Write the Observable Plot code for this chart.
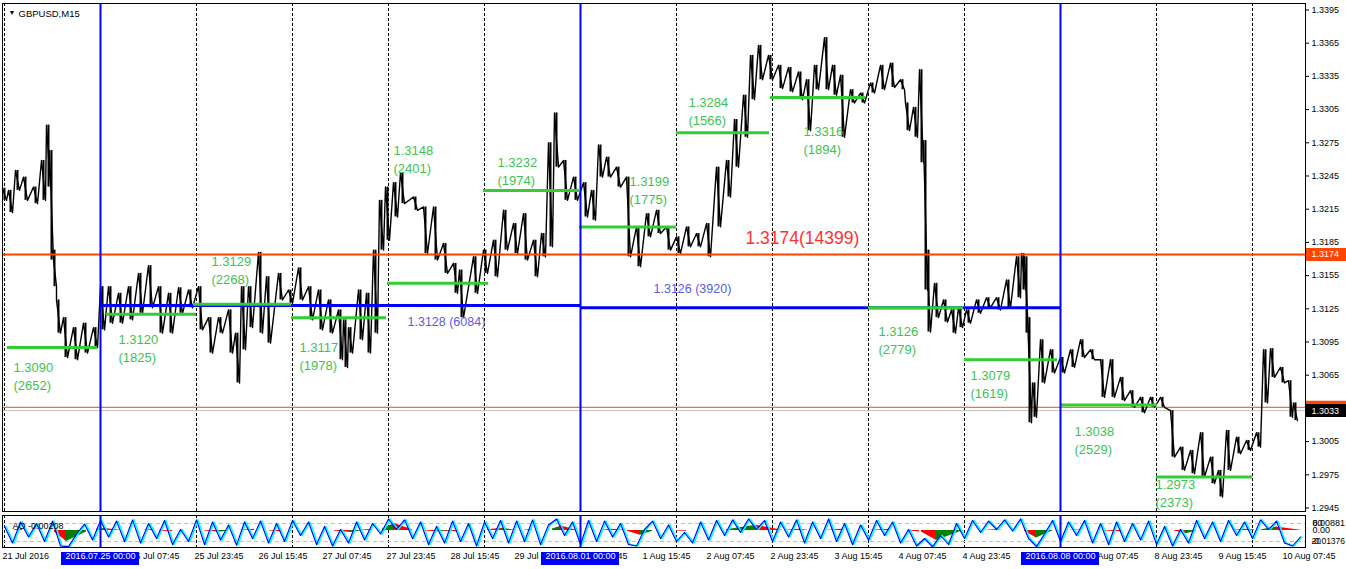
<!DOCTYPE html>
<html><head><meta charset="utf-8">
<script src="https://cdn.jsdelivr.net/npm/d3@7"></script>
<script src="https://cdn.jsdelivr.net/npm/@observablehq/plot@0.6"></script>
<style>body{margin:0;background:#fff} svg{display:block}</style>
</head><body><div id="chart"></div>
<script>
// ---------- DATA ----------
// M15 bars of GBPUSD, sampled: [bar index, high, low]
const priceHL = [
[0,1.3234,1.3223],[6,1.3232,1.3212],[13,1.3250,1.3232],[21,1.3244,1.3223],[31,1.3235,1.3220],[39,1.3259,1.3223],
[44,1.3291,1.3235],[47,1.3268,1.3169],[50,1.3178,1.3145],[54,1.3133,1.3103],[61,1.3117,1.3081],[71,1.3108,1.3079],
[81,1.3112,1.3085],[91,1.3108,1.3090],[98,1.3145,1.3106],[106,1.3145,1.3112],[116,1.3139,1.3112],[126,1.3145,1.3115],
[136,1.3157,1.3121],[146,1.3164,1.3126],[156,1.3145,1.3103],[166,1.3139,1.3103],[176,1.3144,1.3121],[186,1.3142,1.3126],
[196,1.3145,1.3106],[206,1.3117,1.3085],[216,1.3117,1.3103],[226,1.3124,1.3085],[233,1.3103,1.3058],[239,1.3145,1.3088],
[246,1.3145,1.3108],[256,1.3176,1.3103],[264,1.3154,1.3094],[276,1.3157,1.3133],[286,1.3142,1.3130],[296,1.3162,1.3133],
[306,1.3145,1.3115],[316,1.3142,1.3106],[326,1.3133,1.3103],[336,1.3124,1.3079],[341,1.3115,1.3072],[346,1.3108,1.3085],
[356,1.3142,1.3097],[364,1.3139,1.3085],[371,1.3178,1.3103],[377,1.3223,1.3178],[383,1.3235,1.3187],[391,1.3239,1.3208],
[398,1.3248,1.3220],[411,1.3226,1.3214],[421,1.3217,1.3175],[431,1.3217,1.3169],[441,1.3184,1.3157],[451,1.3166,1.3139],
[457,1.3160,1.3117],[471,1.3172,1.3139],[481,1.3178,1.3157],[491,1.3187,1.3154],[501,1.3214,1.3178],[511,1.3202,1.3175],
[521,1.3211,1.3169],[531,1.3187,1.3154],[539,1.3193,1.3172],[546,1.3275,1.3181],[552,1.3302,1.3253],[561,1.3259,1.3223],
[571,1.3244,1.3223],[581,1.3239,1.3208],[589,1.3232,1.3205],[596,1.3273,1.3244],[604,1.3262,1.3244],[614,1.3253,1.3235],
[624,1.3244,1.3172],[634,1.3199,1.3163],[644,1.3211,1.3190],[654,1.3214,1.3193],[664,1.3199,1.3178],[674,1.3190,1.3175],
[684,1.3199,1.3181],[694,1.3193,1.3181],[704,1.3202,1.3172],[714,1.3253,1.3199],[724,1.3259,1.3226],[732,1.3296,1.3253],
[741,1.3318,1.3280],[748,1.3354,1.3314],[756,1.3363,1.3332],[766,1.3354,1.3332],[776,1.3345,1.3324],[786,1.3343,1.3321],
[796,1.3339,1.3314],[804,1.3332,1.3286],[812,1.3345,1.3323],[822,1.3370,1.3323],[830,1.3345,1.3318],[838,1.3336,1.3280],
[848,1.3323,1.3311],[858,1.3320,1.3311],[868,1.3329,1.3320],[878,1.3345,1.3323],[888,1.3347,1.3325],[898,1.3332,1.3323],
[903,1.3311,1.3286],[911,1.3307,1.3280],[917,1.3341,1.3257],[921,1.3277,1.3142],[924,1.3178,1.3104],[932,1.3148,1.3117],
[941,1.3133,1.3113],[949,1.3124,1.3103],[956,1.3126,1.3108],[964,1.3124,1.3112],[974,1.3133,1.3121],[984,1.3135,1.3126],
[994,1.3135,1.3124],[1004,1.3151,1.3126],[1014,1.3172,1.3135],[1019,1.3175,1.3142],[1022,1.3172,1.3103],[1025,1.3117,1.3022],
[1030,1.3058,1.3027],[1038,1.3097,1.3058],[1048,1.3088,1.3067],[1058,1.3081,1.3067],[1068,1.3088,1.3072],[1078,1.3097,1.3081],
[1088,1.3088,1.3079],[1098,1.3079,1.3045],[1108,1.3079,1.3045],[1118,1.3063,1.3042],[1128,1.3051,1.3036],[1138,1.3045,1.3031],
[1148,1.3045,1.3036],[1158,1.3045,1.3036],[1168,1.3033,1.2991],[1178,1.3000,1.2979],[1188,1.2997,1.2976],[1198,1.3013,1.2973],
[1208,1.2991,1.2967],[1216,1.2979,1.2955],[1224,1.3015,1.2979],[1234,1.3009,1.2994],[1244,1.3006,1.2997],[1254,1.3013,1.3000],
[1261,1.3088,1.3040],[1268,1.3089,1.3063],[1278,1.3072,1.3058],[1286,1.3060,1.3027],[1291,1.3040,1.3024]
];

// daily POC levels (green) and volumes
const dayLevels = [1.3090,1.3120,1.3129,1.3117,1.3148,1.3232,1.3199,1.3284,1.3316,1.3126,1.3079,1.3038,1.2973];
const dayCounts = [2652,1825,2268,1978,2401,1974,1775,1566,1894,2779,1619,2529,2373];
const dayStart  = [3,102,189,287,383,479,575,672,766,864,960,1056,1152];
const dayEnd    = [93,192,287,382,484,575,672,765,861,959,1053,1153,1248];
const dayLabelBar   = [9,114,207,295,389,493,625,684,799,874,966,1070,1151];
const dayLabelPrice = [1.3072,1.3097,1.3167,1.3090,1.3268,1.3257,1.3240,1.3311,1.3285,1.3104,1.3064,1.3014,1.2966];

// weekly POC levels (blue)
const weekStart = [96,576,1056];
const weekLevels = [1.3128,1.3126];
const weekCounts = [6084,3920];
const weekLabelBar = [403,649];
const weekLabelPrice = [1.3113,1.3143];
const weekStartLabels = ["2016.07.25 00:00","2016.08.01 00:00","2016.08.08 00:00"];

// overall POC
const totalLevel = 1.3174, totalCount = 14399;
const totalLabelBar = 741, totalLabelPrice = 1.3189;
const askLevel = 1.3036, bidLevel = 1.3033;

const yTicks = [1.3395,1.3365,1.3335,1.3305,1.3275,1.3245,1.3215,1.3185,1.3155,1.3125,1.3095,1.3065,1.3035,1.3005,1.2975,1.2945];
const gridBars = [0,96,192,288,384,480,576,672,768,864,960,1056,1152,1248];
const timeLabels = ["21 Jul 2016","22 Jul 15:45","25 Jul 07:45","25 Jul 23:45","26 Jul 15:45","27 Jul 07:45","27 Jul 23:45",
  "28 Jul 15:45","29 Jul 07:45","31 Jul 23:45","1 Aug 15:45","2 Aug 07:45","2 Aug 23:45","3 Aug 15:45","4 Aug 07:45",
  "4 Aug 23:45","5 Aug 15:45","8 Aug 07:45","8 Aug 23:45","9 Aug 15:45","10 Aug 07:45"];

// oscillator (0..100), sampled every 8 bars
const oscV = [70,15,85,35,80,20,88,5,3,45,78,25,90,35,88,20,92,15,80,30,90,10,60,20,92,10,85,25,75,8,85,30,88,15,80,20,90,40,85,10,
  70,5,60,15,85,25,80,45,95,60,92,30,85,10,70,15,88,20,80,5,85,30,90,15,88,20,92,10,75,95,40,85,10,90,20,88,35,80,10,5,
  60,88,30,75,20,50,15,85,25,90,40,92,50,95,60,90,20,85,35,92,15,85,30,95,20,80,10,75,25,90,40,85,15,60,5,30,2,40,10,80,
  30,90,50,88,60,92,55,95,30,3,45,90,20,85,40,90,15,80,10,85,20,80,25,88,10,70,5,60,15,90,30,85,20,90,40,85,30,92,60,88,
  15,5,35];
// histogram segments: start bar, end bar, start value, end value, colour
const histStart = [10,50,62,92,100,140,155,200,216,236,265,330,346,356,378,390,420,432,440,483,498,520,548,556,597,606,623,636,672,722,740,752,782,795,823,866,903,917,932,982,990,1020,1032,1065,1100,1170,1182,1230,1240,1257,1272];
const histEnd   = [18,62,82,100,116,150,168,216,224,250,278,346,356,368,390,408,432,445,454,498,510,528,558,572,608,620,636,648,682,740,752,778,795,803,838,886,915,932,957,990,998,1032,1048,1075,1117,1182,1192,1240,1250,1272,1296];
const histFrom  = [0.0010,-0.0020,-0.0137,0.0015,0.0025,0.0005,-0.0005,-0.0005,-0.0020,0.0005,-0.0005,-0.0005,-0.0025,0.0005,0.0020,0.0088,-0.0005,-0.0015,-0.0005,0.0010,0.0030,0.0005,0.0020,0.0060,0.0005,0.0015,-0.0010,-0.0060,-0.0005,0.0010,0.0045,0.0065,0.0005,0.0015,0.0005,0.0005,-0.0005,-0.0020,-0.0125,0.0005,0.0010,-0.0010,-0.0095,0.0003,-0.0005,-0.0005,-0.0040,0.0005,0.0015,0.0010,0.0045];
const histTo    = [0.0015,-0.0137,-0.0020,0.0025,0.0005,0.0015,-0.0015,-0.0020,-0.0010,0.0015,-0.0015,-0.0025,-0.0005,0.0015,0.0088,0.0010,-0.0015,-0.0005,-0.0015,0.0030,0.0005,0.0015,0.0060,0.0005,0.0015,0.0002,-0.0060,-0.0010,-0.0010,0.0045,0.0065,0.0005,0.0015,0.0005,0.0015,0.0015,-0.0015,-0.0125,-0.0010,0.0010,0.0005,-0.0095,-0.0005,0.0008,-0.0015,-0.0040,-0.0005,0.0015,0.0010,0.0045,0.0005];
const histColor = ["r","r","g","g","r","g","r","r","g","r","r","r","g","g","g","r","r","g","r","r","g","r","g","r","g","r","r","g","r","g","g","r","r","g","r","g","r","r","g","r","g","r","g","g","r","r","g","r","g","g","r"];
const histMax = 0.00881, histMin = -0.01376, aoValue = -0.00208;

// ---------- RENDER ----------
const FONT = "'Liberation Sans', Arial, sans-serif";
const X = {domain: [-2, 1301], axis: null};
const fmt = d => d.toFixed(4);

const zig = priceHL.flatMap(([b, h, l]) => [{b: b - 2, p: h}, {b: b + 2, p: l}]);
const days = dayLevels.map((v, i) => ({v, s: dayStart[i], e: dayEnd[i], lb: dayLabelBar[i], lp: dayLabelPrice[i], n: dayCounts[i]}));
const weeks = weekLevels.map((v, i) => ({v, s: weekStart[i], e: weekStart[i + 1], lb: weekLabelBar[i], lp: weekLabelPrice[i], n: weekCounts[i]}));
const GREEN = "#32CD32", GTEXT = "#3cc353", BLUE = "#0000FF", ORANGE = "#FF4500";

const main = Plot.plot({
  width: 1346, height: 513,
  marginLeft: 2, marginRight: 41, marginTop: 3, marginBottom: 2,
  style: {fontFamily: FONT, fontSize: "9px", background: "#fff", color: "#000"},
  x: X,
  y: {domain: [1.294184, 1.340087], axis: null},
  marks: [
    Plot.ruleX(gridBars, {stroke: "#000", strokeDasharray: "3,2", strokeWidth: 1}),
    Plot.ruleY([bidLevel], {stroke: "#c0c0c0", strokeWidth: 1}),
    Plot.ruleY([askLevel], {stroke: ORANGE, strokeWidth: 1}),
    Plot.ruleX(priceHL, {x: d => d[0], y1: d => d[2], y2: d => d[1], stroke: "#000", strokeWidth: 2}),
    Plot.line(zig, {x: "b", y: "p", stroke: "#000", strokeWidth: 1.4}),
    Plot.ruleY([totalLevel], {stroke: ORANGE, strokeWidth: 2}),
    Plot.ruleY(weeks, {y: "v", x1: "s", x2: "e", stroke: BLUE, strokeWidth: 3}),
    Plot.ruleY(days, {y: "v", x1: "s", x2: "e", stroke: GREEN, strokeWidth: 3}),
    Plot.ruleX(weekStart, {stroke: BLUE, strokeWidth: 2}),
    Plot.text(days, {x: "lb", y: "lp", text: d => fmt(d.v), fill: GTEXT, fontSize: 13, textAnchor: "start"}),
    Plot.text(days, {x: "lb", y: "lp", text: d => `(${d.n})`, fill: GTEXT, fontSize: 13, textAnchor: "start", dy: 18}),
    Plot.text(weeks, {x: "lb", y: "lp", text: d => `${fmt(d.v)} (${d.n})`, fill: "#5a5ae6", fontSize: 12.5, textAnchor: "start"}),
    Plot.text([totalLevel], {x: () => totalLabelBar, y: () => totalLabelPrice, text: d => `${fmt(d)}(${totalCount})`, fill: "#ff3030", fontSize: 17.5, textAnchor: "start"}),
    Plot.frame({stroke: "#000"}),
    Plot.text(["▼"], {frameAnchor: "top-left", dx: 6, dy: 7, fontSize: 7, fill: "#000"}),
    Plot.text(["GBPUSD,M15"], {frameAnchor: "top-left", dx: 16, dy: 7, textAnchor: "start", fontSize: 9.5, fill: "#000"}),
    Plot.axisY(yTicks, {anchor: "right", tickFormat: fmt, tickSize: 3, tickPadding: 3, label: null, fontSize: 9}),
    Plot.ruleY([totalLevel, askLevel], {x1: () => 1302, x2: () => 1342, stroke: ORANGE, strokeWidth: 13}),
    Plot.text([totalLevel, askLevel], {x: () => 1307, y: d => d, text: fmt, fill: "#fff", fontSize: 9, textAnchor: "start"}),
    Plot.ruleY([bidLevel], {x1: () => 1302, x2: () => 1342, stroke: "#000", strokeWidth: 13}),
    Plot.text([bidLevel], {x: () => 1307, y: d => d, text: fmt, fill: "#fff", fontSize: 9, textAnchor: "start"})
  ]
});

// indicator panel
const hs = h => 20 + (h - histMin) / (histMax - histMin) * 60; // histogram -> panel units
const histPts = histStart.flatMap((s, i) => [
  {x: s, y: hs(histFrom[i]), z: i, c: histColor[i] === "r" ? "#FF0000" : "#008000"},
  {x: histEnd[i], y: hs(histTo[i]), z: i, c: histColor[i] === "r" ? "#FF0000" : "#008000"}
]);
const osc = oscV.map((v, i) => ({x: i * 8, v}));

const ind = Plot.plot({
  width: 1346, height: 56,
  marginLeft: 2, marginRight: 41, marginTop: 2, marginBottom: 22,
  style: {fontFamily: FONT, fontSize: "9px", background: "#fff", color: "#000"},
  x: X,
  y: {domain: [0, 106.67], axis: null},
  color: {type: "identity"},
  marks: [
    Plot.ruleX(gridBars, {stroke: "#000", strokeDasharray: "3,2", strokeWidth: 1}),
    Plot.ruleY([80, 20], {stroke: "#c0c0c0", strokeDasharray: "4,3"}),
    Plot.areaY(histPts, {x: "x", y1: () => hs(0), y2: "y", z: "z", fill: "c"}),
    Plot.line(osc, {x: "x", y: "v", stroke: "#00FFFF", strokeWidth: 1.6, dx: 1.5}),
    Plot.line(osc, {x: "x", y: "v", stroke: BLUE, strokeWidth: 1.1}),
    Plot.ruleX(weekStart, {stroke: BLUE, strokeWidth: 2}),
    Plot.frame({stroke: "#000"}),
    Plot.text([`AO ${aoValue.toFixed(5)}`], {frameAnchor: "top-left", dx: 10, dy: 7, textAnchor: "start", fill: "#000"}),
    Plot.text(["80", histMax.toFixed(5)], {x: () => 1308, y: () => 80, textAnchor: "start", fill: "#000"}),
    Plot.text(["0.00"], {x: () => 1308, y: () => hs(0), textAnchor: "start", fill: "#000"}),
    Plot.text(["20", histMin.toFixed(5)], {x: () => 1307, y: () => 20, textAnchor: "start", fill: "#000", fontSize: 8.5}),
    Plot.text(timeLabels, {x: (d, i) => i * 64, frameAnchor: "bottom", dy: 11, dx: -2, textAnchor: "start", fill: "#000"}),
    Plot.ruleY(weekStart, {y: () => 0, x1: d => d - 39, x2: d => d + 39, dy: 11, stroke: BLUE, strokeWidth: 13}),
    Plot.text(weekStartLabels, {x: (d, i) => weekStart[i], frameAnchor: "bottom", dy: 11, fill: "#fff"})
  ]
});

document.getElementById("chart").append(main, ind);
</script></body></html>
